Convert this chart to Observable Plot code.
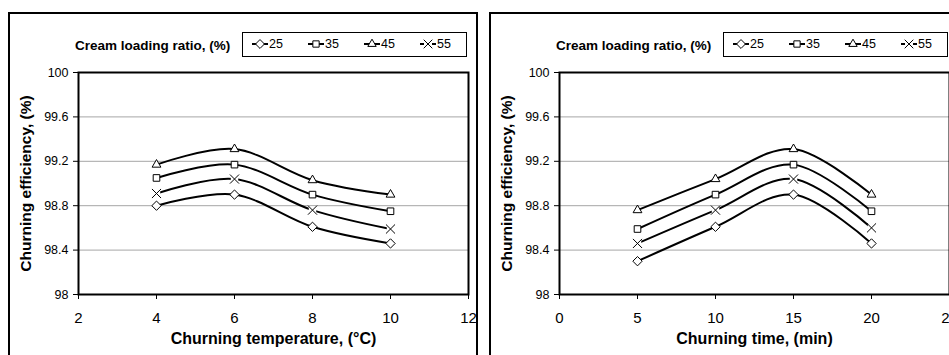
<!DOCTYPE html>
<html><head><meta charset="utf-8">
<script src="https://cdn.jsdelivr.net/npm/d3@7"></script>
<script src="https://cdn.jsdelivr.net/npm/@observablehq/plot@0.6"></script>
<style>
html,body{margin:0;padding:0;width:949px;height:355px;overflow:hidden;background:#fff;font-family:"Liberation Sans",Arial,sans-serif;}
.panel{position:absolute;top:12px;width:466px;height:400px;border:2px solid #000;box-sizing:content-box;}
.legtitle{position:absolute;top:38px;font-weight:bold;font-size:13.5px;line-height:16px;white-space:nowrap;color:#000;}
.legbox{position:absolute;top:32px;width:223px;height:23px;border:1px solid #000;background:#fff;}
.legitem{position:absolute;top:4px;height:14px;font-size:12.5px;line-height:14px;}
.legitem svg{position:absolute;left:0;top:1px;overflow:visible;}
.legitem span{position:absolute;left:17px;top:0;}
.chart{position:absolute;top:50px;width:478px;height:305px;}
.chart svg{overflow:visible;background:transparent;max-width:none !important;}
.chart g[aria-label="x-axis label"] text{font-weight:bold;font-size:16px;}
.chart g[aria-label="y-axis label"] text{font-weight:bold;font-size:15.5px;}
.chart g[aria-label="x-axis tick label"] text{font-size:15px;}
.chart g[aria-label="y-axis tick label"] text{font-size:12.5px;}
</style>
</head><body>
<div id="root"></div>
<script>
// ---- data ----
const ratios = ["25", "35", "45", "55"];
const legendTitle = "Cream loading ratio, (%)";
const yTitle = "Churning efficiency, (%)";
const yTicks = [98, 98.4, 98.8, 99.2, 99.6, 100];

const tempX = [4, 6, 8, 10];
const tempTicks = [2, 4, 6, 8, 10, 12];
const tempTitle = "Churning temperature, (°C)";
const temp25 = [98.80, 98.90, 98.61, 98.46];
const temp35 = [99.05, 99.17, 98.90, 98.75];
const temp45 = [99.17, 99.31, 99.03, 98.90];
const temp55 = [98.91, 99.04, 98.76, 98.59];

const timeX = [5, 10, 15, 20];
const timeTicks = [0, 5, 10, 15, 20, 25];
const timeTitle = "Churning time, (min)";
const time25 = [98.30, 98.61, 98.90, 98.46];
const time35 = [98.59, 98.90, 99.17, 98.75];
const time45 = [98.76, 99.04, 99.31, 98.90];
const time55 = [98.46, 98.76, 99.04, 98.60];

const symbolRange = ["diamond2", "square2", "triangle2", "times"];
const d3Symbols = [d3.symbolDiamond2, d3.symbolSquare2, d3.symbolTriangle2, d3.symbolTimes];

function rows(xs, series) {
  const out = [];
  series.forEach((vals, si) => vals.forEach((v, i) => out.push({x: xs[i], y: v, ratio: ratios[si]})));
  return out;
}

const root = document.getElementById("root");

function panel(ox, xs, series, xTicks, xTitle) {
  const p = document.createElement("div");
  p.className = "panel";
  p.style.left = (ox + 8) + "px";
  root.appendChild(p);

  const data = rows(xs, series);
  const grid = yTicks.filter(t => t > yTicks[0] && t < yTicks[yTicks.length - 1]);
  const chart = Plot.plot({
    width: 478,
    height: 305,
    marginLeft: 78,
    marginRight: 10,
    marginTop: 22,
    marginBottom: 61,
    style: {fontFamily: "'Liberation Sans', Arial, sans-serif", fontSize: "12.5px", background: "transparent", color: "#000", overflow: "visible"},
    x: {domain: [xTicks[0], xTicks[xTicks.length - 1]], ticks: xTicks, tickSize: 5, tickPadding: 13, label: xTitle, labelArrow: "none", labelAnchor: "center", labelOffset: 49},
    y: {domain: [yTicks[0], yTicks[yTicks.length - 1]], ticks: yTicks, tickFormat: d => String(+d.toFixed(1)), tickSize: 5, tickPadding: 5, label: yTitle, labelArrow: "none", labelAnchor: "center", labelOffset: 59},
    symbol: {domain: ratios, range: symbolRange},
    marks: [
      Plot.ruleY(grid, {stroke: "#a6a6a6", strokeWidth: 1}),
      Plot.line(data, {x: "x", y: "y", z: "ratio", stroke: "#000", strokeWidth: 2, curve: "cardinal"}),
      Plot.dot(data.filter(d => d.ratio === ratios[3]), {x: "x", y: "y", symbol: "square", r: 4.2, fill: "#fff", stroke: "none"}),
      Plot.dot(data, {x: "x", y: "y", symbol: "ratio", r: 4.2, fill: "#fff", stroke: "#000", strokeWidth: 1}),
      Plot.frame({stroke: "#000", strokeWidth: 2})
    ]
  });
  const wrap = document.createElement("div");
  wrap.className = "chart";
  wrap.style.left = ox + "px";
  wrap.appendChild(chart);
  root.appendChild(wrap);

  const lt = document.createElement("div");
  lt.className = "legtitle";
  lt.style.left = (ox + 75) + "px";
  lt.textContent = legendTitle;
  root.appendChild(lt);

  const box = document.createElement("div");
  box.className = "legbox";
  box.style.left = (ox + 242) + "px";
  ratios.forEach((r, i) => {
    const it = document.createElement("div");
    it.className = "legitem";
    it.style.left = (9 + 56 * i) + "px";
    const sym = d3.symbol(d3Symbols[i], Math.PI * 16)();
    const bg = i === 3 ? `<rect x="4" y="2" width="8" height="8" fill="#fff"/>` : "";
    it.innerHTML = `<svg width="16" height="12"><line x1="0" x2="16" y1="6" y2="6" stroke="#000" stroke-width="2"/>${bg}<path transform="translate(8,6)" d="${sym}" fill="#fff" stroke="#000" stroke-width="1"/></svg><span>${r}</span>`;
    box.appendChild(it);
  });
  root.appendChild(box);
}

panel(0, tempX, [temp25, temp35, temp45, temp55], tempTicks, tempTitle);
panel(481, timeX, [time25, time35, time45, time55], timeTicks, timeTitle);
</script>
</body></html>
